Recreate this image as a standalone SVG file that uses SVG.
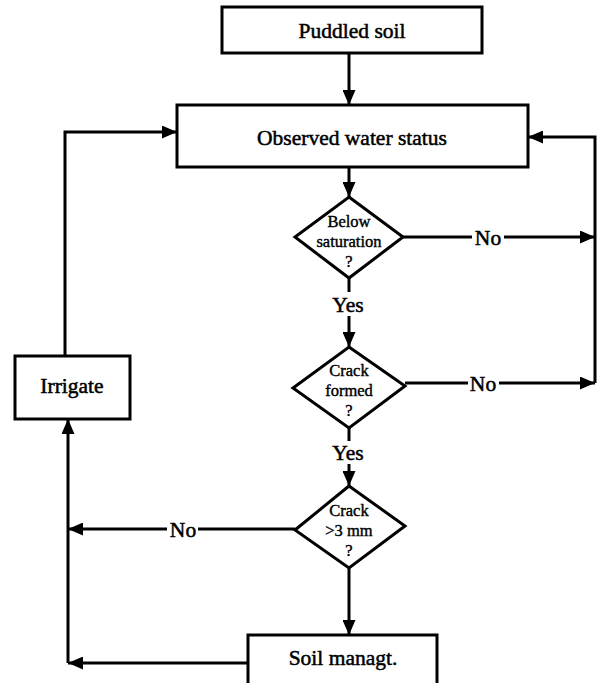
<svg xmlns="http://www.w3.org/2000/svg" width="601" height="683" viewBox="0 0 601 683">
<style>
.box{fill:#fff;stroke:#000;stroke-width:3}
.ln{fill:none;stroke:#000;stroke-width:3}
.t{font-family:'Liberation Serif','DejaVu Serif','Times New Roman',serif;font-size:21.5px;fill:#000;stroke:#000;stroke-width:0.5;text-anchor:middle}
.s{font-family:'Liberation Serif','DejaVu Serif','Times New Roman',serif;font-size:16.5px;fill:#000;stroke:#000;stroke-width:0.4;text-anchor:middle}
</style>
<defs>
<marker id="ah" markerUnits="userSpaceOnUse" markerWidth="16" markerHeight="13" refX="15" refY="6.5" orient="auto">
<path d="M0,0 L15,6.5 L0,13 z" fill="#000"/>
</marker>
</defs>
<rect width="601" height="683" fill="#fff"/>
<g id="connectors">
<line class="ln" x1="349" y1="53" x2="349" y2="105" marker-end="url(#ah)"/>
<line class="ln" x1="349" y1="167" x2="349" y2="197" marker-end="url(#ah)"/>
<line class="ln" x1="403" y1="237" x2="472" y2="237"/>
<line class="ln" x1="504" y1="237" x2="595" y2="237" marker-end="url(#ah)"/>
<text class="t" x="488" y="245">No</text>
<polyline class="ln" points="595,383 595,137 528,137" marker-end="url(#ah)"/>
<line class="ln" x1="349" y1="278" x2="349" y2="292"/>
<text class="t" x="348" y="312">Yes</text>
<line class="ln" x1="349" y1="316" x2="349" y2="347" marker-end="url(#ah)"/>
<line class="ln" x1="405" y1="383" x2="468" y2="383"/>
<line class="ln" x1="499" y1="383" x2="595" y2="383" marker-end="url(#ah)"/>
<text class="t" x="483" y="391">No</text>
<line class="ln" x1="349" y1="428" x2="349" y2="441"/>
<text class="t" x="348" y="460">Yes</text>
<line class="ln" x1="349" y1="464" x2="349" y2="486" marker-end="url(#ah)"/>
<line class="ln" x1="295" y1="529" x2="198" y2="529"/>
<line class="ln" x1="167" y1="529" x2="68" y2="529" marker-end="url(#ah)"/>
<text class="t" x="183" y="537">No</text>
<line class="ln" x1="349" y1="568" x2="349" y2="635" marker-end="url(#ah)"/>
<line class="ln" x1="248" y1="663" x2="68" y2="663" marker-end="url(#ah)"/>
<line class="ln" x1="68" y1="663" x2="68" y2="419" marker-end="url(#ah)"/>
<polyline class="ln" points="65,356 65,132 177,132" marker-end="url(#ah)"/>
</g>
<g id="puddled">
<rect class="box" x="222" y="7" width="260" height="46"/>
<text class="t" x="352" y="38">Puddled soil</text>
</g>
<g id="observed">
<rect class="box" x="177" y="105" width="351" height="62"/>
<text class="t" x="352" y="145">Observed water status</text>
</g>
<g id="below">
<polygon class="box" points="349,197 403,237 349,278 295,237"/>
<text class="s" x="349" y="227">Below</text>
<text class="s" x="349" y="247">saturation</text>
<text class="s" x="349" y="267">?</text>
</g>
<g id="crackformed">
<polygon class="box" points="349,347 405,386 349,428 293,388"/>
<text class="s" x="349" y="376">Crack</text>
<text class="s" x="349" y="396">formed</text>
<text class="s" x="349" y="416">?</text>
</g>
<g id="crack3">
<polygon class="box" points="349,486 405,526 349,568 295,530"/>
<text class="s" x="349" y="516">Crack</text>
<text class="s" x="349" y="536">&gt;3 mm</text>
<text class="s" x="349" y="556">?</text>
</g>
<g id="irrigate">
<rect class="box" x="15" y="356" width="115" height="63"/>
<text class="t" x="72" y="393">Irrigate</text>
</g>
<g id="soil">
<rect class="box" x="248" y="635" width="189" height="52"/>
<text class="t" x="343" y="665">Soil managt.</text>
</g>
</svg>
